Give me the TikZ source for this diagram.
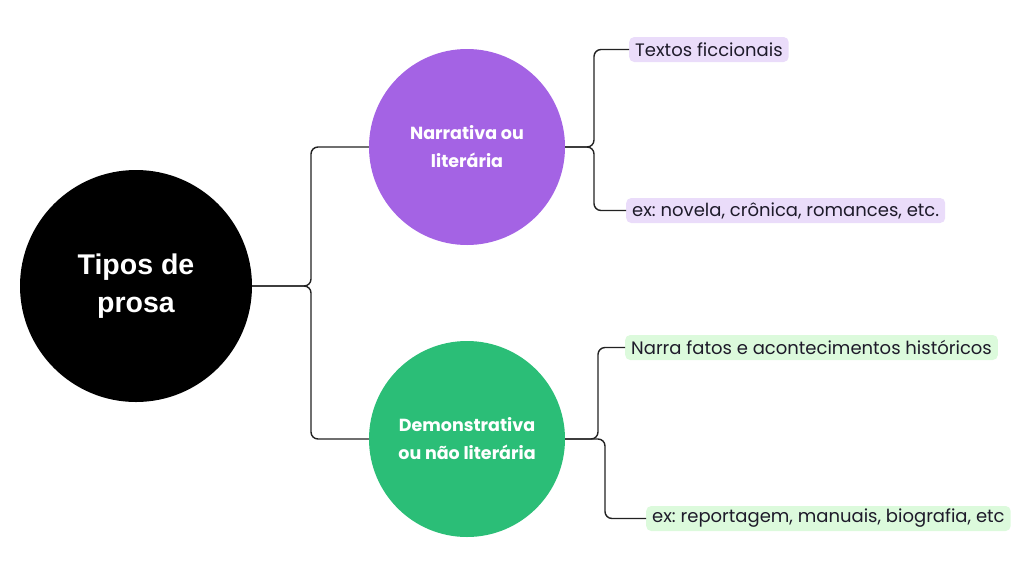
\documentclass[tikz,border=0pt]{standalone}
\usepackage{fontspec}
\setmainfont{Poppins}
\newfontfamily\rootfont{Liberation Sans}
\definecolor{purp}{HTML}{A463E4}
\definecolor{lpurp}{HTML}{EADCFA}
\definecolor{grn}{HTML}{2BBE77}
\definecolor{lgrn}{HTML}{DCFADC}
\definecolor{ink}{HTML}{1E1B2A}
\definecolor{wire}{HTML}{222222}
\begin{document}
\frenchspacing
\begin{tikzpicture}[x=1pt,y=-1pt,
  bigc/.style={circle,inner sep=0pt,text=white,align=center},
  tag/.style={fill=#1,rounded corners=5pt,inner xsep=6pt,inner ysep=0pt,minimum height=25pt,text=ink,font=\fontsize{18}{20}\selectfont,anchor=west},
  wireline/.style={draw=wire,line width=1.4pt,rounded corners=7pt}]
\useasboundingbox (0,0) rectangle (1024,576);
\node[bigc,fill=black,minimum size=232pt,font=\rootfont\bfseries\fontsize{28.5}{38}\selectfont] (root) at (136,286) {Tipos de\\prosa};
\node[bigc,fill=purp,minimum size=196pt,font=\bfseries\fontsize{17.5}{28}\selectfont] (narr) at (467,147) {Narrativa ou\\literária};
\node[bigc,fill=grn,minimum size=196pt,font=\bfseries\fontsize{17.5}{28}\selectfont] (demo) at (467,439) {Demonstrativa\\ou não literária};
\node[tag=lpurp] (t1) at (629,49.5) {Textos ficcionais};
\node[tag=lpurp] (t2) at (626,210.5) {ex: novela, crônica, romances, etc.};
\node[tag=lgrn] (t3) at (625,347.5) {Narra fatos e acontecimentos históricos};
\node[tag=lgrn] (t4) at (646,518.5) {ex: reportagem, manuais, biografia, etc};
\draw[wireline] (root.east) -- (311,286) |- (narr.west);
\draw[wireline] (root.east) -- (311,286) |- (demo.west);
\draw[wireline] (narr.east) -- (594,147) |- (t1.west);
\draw[wireline] (narr.east) -- (594,147) |- (t2.west);
\draw[wireline] (demo.east) -- (598,439) |- (t3.west);
\draw[wireline] (demo.east) -- (605,439) |- (t4.west);
\end{tikzpicture}
\end{document}
